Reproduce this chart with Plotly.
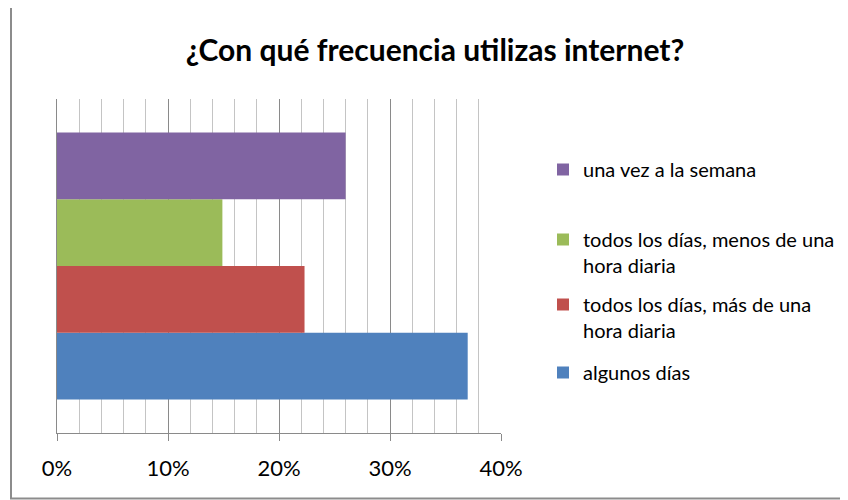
import plotly.graph_objects as go

categories = ["algunos días",
              "todos los días, más de una<br>hora diaria",
              "todos los días, menos de una<br>hora diaria",
              "una vez a la semana"]
values = [0.37, 0.223, 0.149, 0.26]
colors = ["#4F81BD", "#C0504D", "#9BBB59", "#8064A2"]
tick_vals = [0, 0.1, 0.2, 0.3, 0.4]
tick_text = ["0%", "10%", "20%", "30%", "40%"]

FONT = "Lato"
W, H = 848, 500
OFF = 8  # page offset of the figure
L, R, T, B = 57 - OFF, 501 - OFF, 99 - OFF, 433 - OFF  # plot area in figure pixels

def px(p):
    return (p - OFF - L) / (R - L)

def py(p):
    return (B - (p - OFF)) / (B - T)

legend_names = ["legend4", "legend3", "legend2", "legend"]
legend_tops = [373, 305, 240, 170]  # first-line centers (screen px)

fig = go.Figure()
for i, (name, v, c) in enumerate(zip(categories, values, colors)):
    fig.add_trace(go.Bar(
        y=[""], x=[v], name=name, orientation="h",
        marker=dict(color=c, line=dict(width=0)),
        legend=legend_names[i],
    ))

layout_legends = {}
for i, ln in enumerate(legend_names):
    layout_legends[ln] = dict(
        x=px(543), xanchor="left",
        y=py(legend_tops[i] - 20), yanchor="top",
        font=dict(family=FONT, size=20, color="#000000"),
        bgcolor="rgba(0,0,0,0)", borderwidth=0,
        valign="top", itemclick=False, itemdoubleclick=False,
    )

fig.update_layout(
    width=W, height=H,
    margin=dict(l=L, r=W - R, t=T, b=H - B),
    paper_bgcolor="white", plot_bgcolor="white",
    barmode="group", bargap=0.2, bargroupgap=0,
    showlegend=True,
    title=dict(text="<b>¿Con qué frecuencia utilizas internet?</b>",
               x=px(435), xanchor="center", xref="paper",
               y=1 - (50 - OFF) / H, yanchor="middle",
               font=dict(family=FONT, size=30, color="#000000")),
    xaxis=dict(range=[0, 0.4], tickvals=tick_vals, ticktext=tick_text,
               showgrid=True, gridcolor="#8a8a8a", gridwidth=1,
               minor=dict(dtick=0.02, showgrid=True, gridcolor="#c4c4c4", gridwidth=1,
                          ticks=""),
               showline=True, linecolor="#8a8a8a", linewidth=1,
               ticks="outside", ticklen=7, tickcolor="#8a8a8a",
               ticklabelstandoff=9,
               tickfont=dict(family=FONT, size=22, color="#000000"),
               zeroline=False, fixedrange=True),
    yaxis=dict(showline=True, linecolor="#8a8a8a", linewidth=1,
               showticklabels=False, showgrid=False, zeroline=False,
               range=[-0.5, 0.5], fixedrange=True),
    shapes=[dict(type="rect", xref="paper", yref="paper",
                 x0=px(11), x1=px(860), y0=py(498.5), y1=py(6),
                 line=dict(color="#8c8c8c", width=2), layer="below")],
    **layout_legends,
)

fig.write_html("out.html")
